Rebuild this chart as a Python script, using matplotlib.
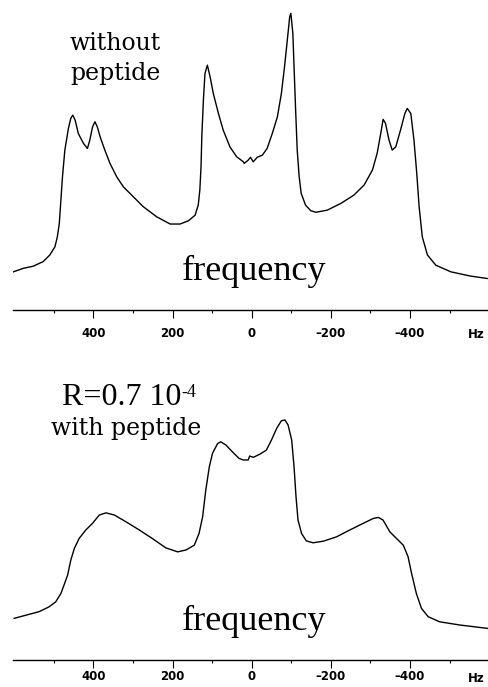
import numpy as np
import matplotlib.pyplot as plt
from matplotlib.ticker import FixedLocator

# spectrum without peptide (frequency in Hz, intensity in arbitrary units)
hz_free = [602, 577, 552, 527, 510, 497, 491, 486, 482, 478, 472, 463, 457, 452,
           446, 438, 425, 415, 409, 402, 396, 390, 383, 371, 358, 341, 324, 299,
           274, 240, 206, 181, 160, 143, 135, 131, 128, 126, 122, 118, 112, 105,
           97, 84, 72, 55, 38, 21, 19, 9, 3, -4, -14, -27, -39, -52, -65, -75,
           -83, -90, -96, -99, -104, -107, -111, -115, -120, -125, -136, -149,
           -162, -191, -225, -258, -284, -305, -317, -326, -332, -338, -347,
           -355, -364, -376, -387, -393, -402, -410, -417, -423, -431, -444,
           -465, -503, -553, -595]
int_free = [3.1, 4.4, 5.2, 6.9, 9.4, 12.5, 16.2, 21.2, 30.0, 38.7, 48.7, 56.8,
            60.6, 61.8, 59.9, 54.9, 51.2, 49.3, 52.4, 57.4, 59.3, 57.4, 53.7,
            48.7, 43.7, 38.7, 34.9, 31.2, 27.5, 23.7, 21.0, 21.0, 22.2, 24.3,
            28.1, 33.7, 42.4, 53.7, 67.4, 77.4, 80.5, 76.1, 69.9, 62.4, 56.2,
            49.9, 46.2, 44.3, 43.7, 44.9, 46.0, 44.3, 46.0, 46.8, 49.3, 54.9,
            61.2, 69.9, 79.9, 89.9, 98.6, 99.9, 92.4, 79.9, 63.7, 48.7, 38.7,
            32.5, 28.1, 26.0, 25.4, 26.2, 28.7, 31.8, 35.6, 41.2, 47.5, 54.9,
            60.2, 58.7, 52.4, 48.7, 49.9, 56.2, 62.4, 64.3, 62.4, 52.4, 40.0,
            27.5, 16.2, 9.4, 5.6, 3.1, 1.5, 0.6]

# spectrum with peptide, R = 0.7e-4
hz_pep = [600, 570, 537, 512, 495, 482, 474, 465, 457, 448, 436, 419, 402, 385,
          368, 347, 318, 284, 251, 217, 187, 166, 145, 133, 124, 116, 107, 99,
          86, 78, 65, 49, 32, 21, 9, 5, -4, -21, -37, -50, -63, -75, -84, -92,
          -101, -107, -112, -117, -126, -138, -155, -181, -214, -248, -282,
          -307, -320, -332, -349, -366, -383, -395, -404, -416, -429, -446,
          -475, -526, -598]
int_pep = [4.4, 5.6, 6.9, 8.7, 10.6, 13.7, 16.9, 20.6, 26.2, 30.6, 34.3, 37.5,
           40.0, 43.1, 43.9, 43.1, 40.6, 37.5, 34.3, 30.8, 29.3, 30.0, 31.8,
           36.2, 42.4, 52.4, 61.2, 66.2, 69.9, 70.5, 69.3, 66.8, 64.3, 63.7,
           63.7, 65.2, 64.7, 65.9, 67.4, 71.2, 75.5, 78.4, 78.7, 76.8, 71.2,
           61.2, 49.9, 41.2, 36.2, 33.4, 32.7, 33.3, 34.9, 37.5, 40.0, 41.8,
           42.2, 41.2, 36.8, 34.3, 31.8, 27.5, 21.2, 13.7, 8.1, 5.0, 3.1, 1.9,
           0.6]

major_ticks = [400, 200, 0, -200, -400]
minor_ticks = [500, 300, 100, -100, -300, -500]

fig = plt.figure(figsize=(4.88, 6.87), dpi=100)
ax1 = fig.add_axes([13 / 488, 1 - 310 / 687, 1 - 13 / 488, 310 / 687])
ax2 = fig.add_axes([13 / 488, 1 - 660 / 687, 1 - 13 / 488, 310 / 687])


def style_axis(ax, pad):
    ax.set_xlim(603, -597)
    ax.set_ylim(-11.2, 104.9)
    for side in ['left', 'right', 'top']:
        ax.spines[side].set_visible(False)
    ax.spines['bottom'].set_linewidth(1.0)
    ax.set_yticks([])
    ax.set_xticks(major_ticks)
    ax.set_xticklabels([str(t).replace('-', '\u2013') for t in major_ticks],
                       fontfamily='DejaVu Sans', fontweight='bold', fontsize=8.5)
    ax.xaxis.set_minor_locator(FixedLocator(minor_ticks))
    ax.tick_params(axis='x', which='major', direction='out', length=6,
                   width=0.8, pad=pad)
    ax.tick_params(axis='x', which='minor', direction='out', length=2.5,
                   width=0.8)
    ax.annotate('Hz', xy=(-567, 0), xycoords=('data', 'axes fraction'),
                xytext=(0, -6 - pad - 6), textcoords='offset points',
                ha='center', va='center', fontfamily='DejaVu Sans',
                fontweight='bold', fontsize=8.5, annotation_clip=False)


ax1.plot(hz_free, int_free, color='black', linewidth=1.0)
style_axis(ax1, 6)
ax1.text(345, 86, 'without', family='DejaVu Serif', fontsize=17,
         ha='center', va='baseline')
ax1.text(345, 75, 'peptide', family='DejaVu Serif', fontsize=17,
         ha='center', va='baseline')
ax1.text(-5, 0, 'frequency', family='Liberation Serif', fontsize=26,
         ha='center', va='baseline')

ax2.plot(hz_pep, int_pep, color='black', linewidth=1.0)
style_axis(ax2, 1)
ax2.text(479, 84.3, 'R=0.7 10', family='Liberation Serif',
         fontsize=23, ha='left', va='baseline')
ax2.text(177, 87.3, '-4', family='Liberation Serif',
         fontsize=13, ha='left', va='baseline')
ax2.text(317, 73, 'with peptide', family='DejaVu Serif', fontsize=17,
         ha='center', va='baseline')
ax2.text(-5, 0, 'frequency', family='Liberation Serif', fontsize=26,
         ha='center', va='baseline')

fig.savefig('out.png', dpi=100)
